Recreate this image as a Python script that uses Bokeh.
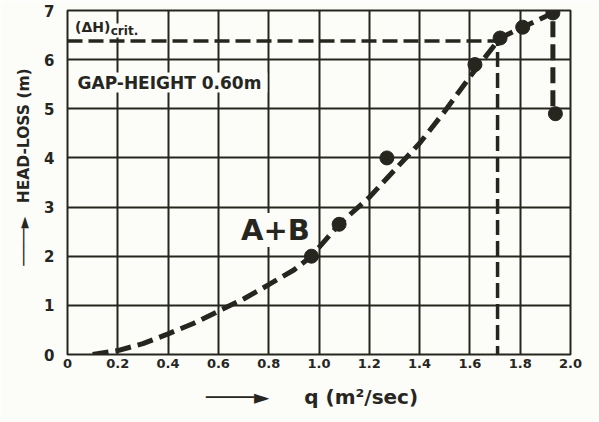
from bokeh.plotting import figure
from bokeh.models import Label, FixedTicker
from bokeh.embed import file_html
from bokeh.resources import INLINE

# ---- data ----
curve_q = [0.10, 0.20, 0.30, 0.40, 0.50, 0.60, 0.70, 0.80, 0.90, 0.97, 1.08, 1.20, 1.30, 1.40, 1.50, 1.60, 1.72, 1.81, 1.93, 1.93]
curve_h = [0.00, 0.08, 0.22, 0.42, 0.63, 0.88, 1.13, 1.42, 1.72, 2.00, 2.65, 3.20, 3.75, 4.30, 4.95, 5.65, 6.44, 6.66, 6.95, 4.90]
point_q = [0.97, 1.08, 1.27, 1.62, 1.72, 1.81, 1.93, 1.94]
point_h = [2.00, 2.65, 4.00, 5.90, 6.44, 6.66, 6.95, 4.90]
crit_q = [0.0, 1.71, 1.71]
crit_h = [6.38, 6.38, 0.0]
x_ticks = [0, 0.2, 0.4, 0.6, 0.8, 1.0, 1.2, 1.4, 1.6, 1.8, 2.0]
x_tick_labels = ["0", "0.2", "0.4", "0.6", "0.8", "1.0", "1.2", "1.4", "1.6", "1.8", "2.0"]
y_ticks = [0, 1, 2, 3, 4, 5, 6, 7]

INK = "#26261f"
PAPER = "#fcfcf9"
FONT = "DejaVu Sans"
SP = "\u2002"  # en space
NB = "\u00a0"

p = figure(width=599, height=422, x_range=(0, 2.0), y_range=(0, 7),
           output_backend="svg", toolbar_location=None,
           min_border_left=67, min_border_right=29, min_border_top=10, min_border_bottom=68)
p.background_fill_color = PAPER
p.border_fill_color = PAPER
p.outline_line_color = INK
p.outline_line_width = 2

p.xaxis.ticker = FixedTicker(ticks=x_ticks)
p.yaxis.ticker = FixedTicker(ticks=y_ticks)
p.xaxis.major_label_overrides = {t: s for t, s in zip(x_ticks, x_tick_labels)}
for ax in (p.xaxis, p.yaxis):
    ax.axis_line_color = None
    ax.major_tick_in = 0
    ax.major_tick_out = 0
    ax.minor_tick_in = 0
    ax.minor_tick_out = 0
    ax.major_label_text_font = FONT
    ax.major_label_text_font_style = "bold"
    ax.major_label_text_color = INK
    ax.axis_label_text_font = FONT
    ax.axis_label_text_font_style = "bold"
    ax.axis_label_text_color = INK
p.xaxis.major_label_text_font_size = "13px"
p.yaxis.major_label_text_font_size = "15px"
p.xaxis.major_label_standoff = 4
p.yaxis.major_label_standoff = 13

# axis titles with their arrows
p.yaxis.axis_label = SP * 4 + "────►" + SP + NB + "HEAD-LOSS (m)"
p.yaxis.axis_label_text_font_size = "15.5px"
p.yaxis.axis_label_standoff = 8
p.xaxis.axis_label = "────►" + NB * 5 + "q (m²/sec)" + NB * 2
p.xaxis.axis_label_text_font_size = "20px"
p.xaxis.axis_label_standoff = 14

p.xgrid.ticker = FixedTicker(ticks=x_ticks)
p.ygrid.ticker = FixedTicker(ticks=y_ticks)
for g in (p.xgrid, p.ygrid):
    g.grid_line_color = INK
    g.grid_line_width = 2
    g.grid_line_alpha = 1.0

# critical head-loss lines
p.line(crit_q, crit_h, line_color=INK, line_width=3.5, line_dash="15 6")

# measured curve and points
p.line(curve_q, curve_h, line_color=INK, line_width=5, line_dash="16 7")
p.scatter(point_q, point_h, size=14, fill_color=INK, line_color=INK)

# texts inside the plot
p.add_layout(Label(x=0.03, y=6.50, text="(ΔH)", text_font=FONT, text_font_style="bold",
                   text_font_size="14px", text_color=INK, background_fill_color=PAPER))
p.add_layout(Label(x=0.172, y=6.45, text="crit.", text_font=FONT, text_font_style="bold",
                   text_font_size="12px", text_color=INK, background_fill_color=PAPER))
p.add_layout(Label(x=0.04, y=5.33, text="GAP-HEIGHT  0.60m", text_font=FONT, text_font_style="bold",
                   text_font_size="17px", text_color=INK, background_fill_color=PAPER))
p.add_layout(Label(x=0.69, y=2.19, text="A+B", text_font=FONT, text_font_style="bold",
                   text_font_size="29px", text_color=INK, background_fill_color=PAPER))

open("out.html", "w").write(file_html(p, INLINE))
